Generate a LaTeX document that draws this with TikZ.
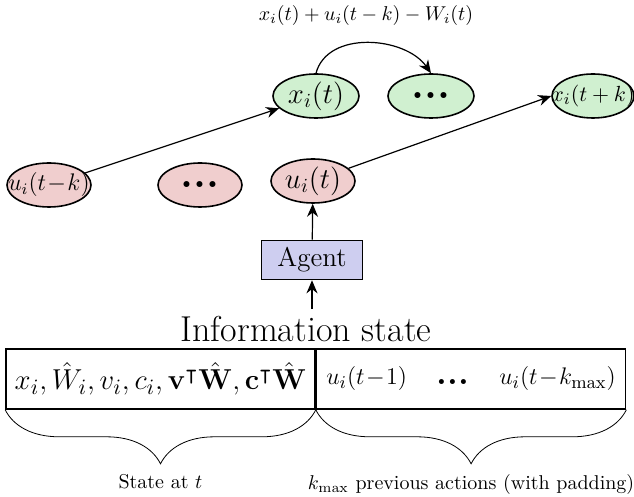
\documentclass[tikz,border=0pt]{standalone}
\usepackage{amsmath, amssymb}
\usepackage{xcolor}
\usepackage{tikz}
\usetikzlibrary{shapes.geometric, decorations.pathreplacing, arrows.meta}

\definecolor{stategreen}{RGB}{208,240,208}
\definecolor{actionred}{RGB}{240,206,206}
\definecolor{agentblue}{RGB}{206,206,240}

\tikzset{
	xnode/.style={ellipse, draw, thick, fill=stategreen, minimum width=43pt, minimum height=22pt, inner sep=0pt},
	unode/.style={ellipse, draw, thick, fill=actionred, minimum width=42pt, minimum height=22pt, inner sep=0pt},
	infobox/.style={draw, thick, minimum width=154.5pt, minimum height=30pt, inner sep=0pt},
	flow/.style={-{Stealth[length=6.5pt, width=5.5pt]}, semithick},
	curly/.style={decorate, decoration={brace, mirror, amplitude=27pt}},
}

\begin{document}
\begin{tikzpicture}[x=0.5pt, y=-0.5pt]
			\useasboundingbox (0,0) rectangle (634,497);

			\def\xROW{96};
			\def\uROW{185};

			% states
			\begin{scope}
				\node[xnode] (xt) at (316,\xROW) {\Large $x_i(t)$};
				\node[xnode] (xdots) at (431,\xROW) {\huge\textbf{...}};
				\node[xnode, minimum width=41pt] (xtk) at (593,\xROW) {\makebox[0pt]{\fontsize{11.4}{13}\selectfont $x_i(t+k)$}};
			\end{scope}

			% actions
			\begin{scope}
				\node[unode] (utk) at (49,\uROW) {\makebox[0pt]{\large $u_i(t\!-\!k)$}};
				\node[unode] (udots) at (200,\uROW) {\huge\textbf{...}};
				\node[unode] (ut) at (313,181) {\Large $u_i(t)$};
			\end{scope}

			\node[draw, thick, fill=agentblue, minimum width=50.5pt, minimum height=19.5pt] (agent) at (312,260) {\fontsize{13.5}{16}\selectfont Agent};
			\node (info) at (306,329) {\fontsize{18}{22}\selectfont Information state};

			\node[infobox] (lbox) at (160.5,379) {\fontsize{15.4}{18}\selectfont $x_i, \hat{W}_i, v_i, c_i, \mathbf{v}^\intercal\hat{\mathbf{W}}, \mathbf{c}^\intercal\hat{\mathbf{W}}$};
			\node[infobox, anchor=west] (rbox) at (lbox.east) {\fontsize{12.8}{15}\selectfont $u_i(t\!-\!1)$\hspace{15pt}{\LARGE\textbf{...}}\hspace{15pt}$u_i(t\!-\!k_{\max})$};

			\node (update) at (366,16) {$x_i(t)+u_i(t-k)-W_i(t)$};

			% arrows
			\draw[flow] (utk) -- (xt);
			\draw[flow] (ut) -- (xtk.west);
			\draw[flow] (xt.north) to[out=75, in=125] (xdots.north);
			\draw[flow] (agent) -- (ut);
			\draw[flow] (info.north -| agent) -- (agent);

			% braces
			\draw[curly] (lbox.south west) -- (lbox.south east) node[midway, below=29pt] (lbl) {State at $t$};
			\draw[curly] (rbox.south west) -- (rbox.south east) node[midway, below=29pt] (rbl) {$k_{\max}$ previous actions (with padding)};
		\end{tikzpicture}
\end{document}
